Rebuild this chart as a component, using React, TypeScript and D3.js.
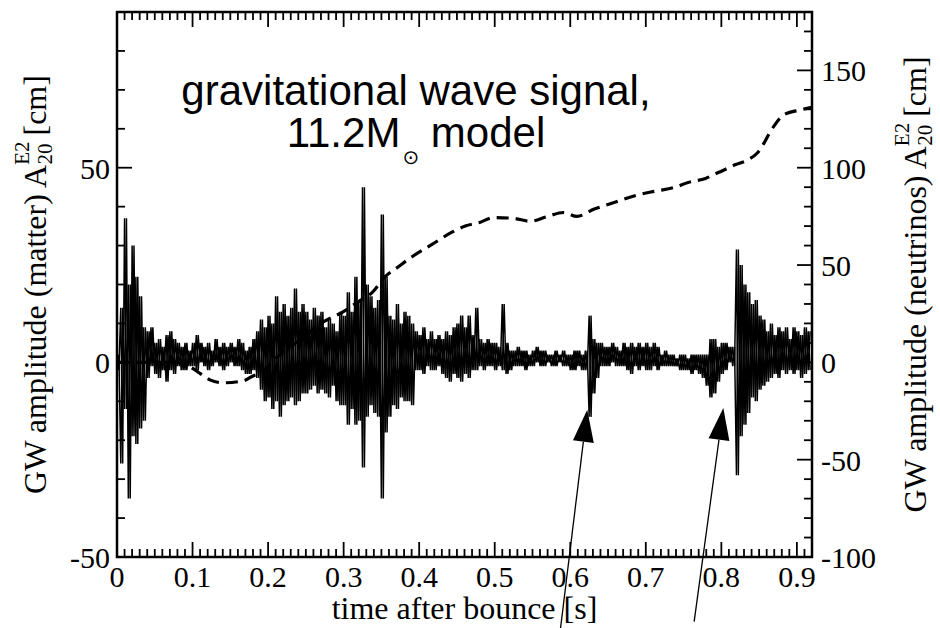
import { useRef, useEffect } from 'react';
import * as d3 from 'd3';

const binWidth = 0.005;
const matterHigh = [
  2, 14, 37, 20, 30, 22, 17, 9, 8, 9,
  5, 6, 4, 7, 8, 6, 5, 4, 5, 3,
  5, 7, 5, 4, 5, 3, 6, 4, 5, 4,
  5, 4, 6, 5, 3, 4, 6, 8, 11, 9,
  12, 10, 17, 13, 15, 12, 14, 19, 13, 15,
  13, 11, 14, 12, 13, 9, 11, 10, 8, 13,
  12, 18, 13, 22, 16, 45, 20, 17, 14, 16,
  38, 22, 12, 11, 15, 10, 13, 12, 10, 8,
  7, 9, 6, 8, 6, 7, 6, 8, 7, 9,
  10, 12, 9, 12, 7, 14, 6, 5, 6, 5,
  5, 4, 15, 5, 3, 3, 4, 3, 3, 2,
  3, 4, 3, 3, 2, 2, 3, 2, 3, 2,
  2, 3, 3, 2, 3, 12, 6, 5, 5, 4,
  4, 5, 4, 3, 5, 4, 5, 4, 5, 4,
  5, 4, 5, 4, 2, 3, 2, 2, 1, 2,
  2, 1, 2, 2, 2, 2, 2, 6, 6, 4,
  5, 5, 4, 4, 29, 25, 20, 18, 15, 16,
  12, 11, 8, 10, 7, 9, 8, 9, 6, 9,
  8, 7, 9, 8,
];
const matterLow = [
  -2, -26, -12, -35, -19, -21, -17, -15, -4, -1,
  -3, -4, -2, -5, -2, -3, -1, -2, -2, -1,
  -1, -2, 0, -1, -2, -1, 0, -1, -2, -1,
  0, -1, -1, -2, -3, -3, -2, -4, -7, -10,
  -9, -12, -10, -14, -11, -10, -9, -11, -10, -8,
  -8, -7, -6, -8, -7, -8, -9, -6, -10, -11,
  -11, -16, -12, -16, -15, -27, -14, -11, -13, -14,
  -35, -18, -14, -11, -12, -9, -10, -10, -11, -2,
  -2, -3, -1, -2, -2, -1, -3, -4, -5, -3,
  -4, -5, -3, -4, -2, -2, -1, -2, -1, -1,
  -2, -1, -2, -3, -2, -1, -1, -1, -2, -1,
  -1, 0, -1, -1, 0, -1, -1, 0, -1, -1,
  -2, -2, -1, -2, -2, -14, -8, -4, -1, -1,
  -1, 0, -1, -1, -1, -2, -3, -1, -2, -1,
  -2, -2, -1, -2, -1, -1, -1, -1, -1, -2,
  -2, -2, -3, -2, -3, -4, -6, -9, -8, -5,
  -3, -2, 0, -1, -29, -19, -16, -13, -9, -10,
  -7, -6, -5, -4, -3, -4, -2, -3, -2, -3,
  -2, -4, -3, -2,
];

// neutrino signal (right axis, cm)
const neutrinoTime = [
  0, 0.04, 0.079, 0.095, 0.106, 0.123, 0.14, 0.167, 0.18, 0.193,
  0.2, 0.21, 0.23, 0.25, 0.272, 0.298, 0.319, 0.338, 0.355, 0.372,
  0.391, 0.417, 0.444, 0.461, 0.481, 0.498, 0.525, 0.547, 0.57, 0.591,
  0.609, 0.631, 0.657, 0.689, 0.713, 0.739, 0.756, 0.779, 0.796, 0.819,
  0.835, 0.848, 0.869, 0.882, 0.905, 0.92,
];
const neutrinoAmp = [
  0, 0, 0, -2, -4.6, -9, -10.5, -9.5, -7, -4.8,
  -2, 2, 8, 14, 20.5, 25.7, 31, 36, 44, 49,
  54.4, 60.6, 67, 70, 72, 74.4, 74, 72.5, 75, 77,
  75, 78.6, 82, 86, 88, 90, 92.4, 94.5, 97.5, 101.6,
  104, 107.7, 121, 127, 129.7, 131,
];

const xTicks = [0, 0.1, 0.2, 0.3, 0.4, 0.5, 0.6, 0.7, 0.8, 0.9];
const leftTicks = [-50, 0, 50];
const rightTicks = [-100, -50, 0, 50, 100, 150];

// annotation arrows, in time / matter amplitude
const arrowTipTime = [0.6225, 0.8026];
const arrowTipAmp = [-12.2, -11.7];
const arrowTailTime = [0.587, 0.764];
const arrowTailAmp = [-68.5, -66.6];

const serif = '"Liberation Serif", "Times New Roman", serif';
const sans = '"Liberation Sans", Arial, sans-serif';

export default function App() {
  const ref = useRef<SVGSVGElement>(null);

  useEffect(() => {
    const left = 117;
    const right = 812;
    const top = 12;
    const bottom = 557;

    const svg = d3.select(ref.current);
    svg.selectAll('*').remove(); // clear svg

    const x = d3.scaleLinear().domain([0, 0.92]).range([left, right]);
    const yL = d3.scaleLinear().domain([-50, 90]).range([bottom, top]);
    const yR = d3.scaleLinear().domain([-100, 180]).range([bottom, top]);

    svg
      .append('clipPath')
      .attr('id', 'plot-clip')
      .append('rect')
      .attr('x', left)
      .attr('y', top)
      .attr('width', right - left)
      .attr('height', bottom - top);

    const plot = svg.append('g').attr('clip-path', 'url(#plot-clip)');

    // neutrino curve (dashed)
    const neutrino = neutrinoTime.map((t, i) => [t, neutrinoAmp[i]] as [number, number]);
    plot
      .append('path')
      .attr(
        'd',
        d3
          .line<[number, number]>()
          .x((d) => x(d[0]))
          .y((d) => yR(d[1]))
          .curve(d3.curveMonotoneX)(neutrino)
      )
      .attr('fill', 'none')
      .attr('stroke', '#000')
      .attr('stroke-width', 3.2)
      .attr('stroke-dasharray', '12,7');

    // matter signal: two zig-zags between the bin extremes, half a bin out of phase,
    // so the band reads as dense noise
    const matterLine = d3
      .line<[number, number]>()
      .x((d) => x(d[0]))
      .y((d) => yL(d[1]));
    const zigA: [number, number][] = [];
    const zigB: [number, number][] = [];
    matterHigh.forEach((h, i) => {
      zigA.push([i * binWidth, h]);
      zigA.push([(i + 0.5) * binWidth, matterLow[i]]);
      zigB.push([i * binWidth, matterLow[i]]);
      zigB.push([(i + 0.5) * binWidth, h]);
    });
    [zigA, zigB].forEach((pts) => {
      plot
        .append('path')
        .attr('d', matterLine(pts))
        .attr('fill', 'none')
        .attr('stroke', '#000')
        .attr('stroke-width', 1.5)
        .attr('stroke-linejoin', 'bevel');
    });

    // frame
    svg
      .append('rect')
      .attr('x', left)
      .attr('y', top)
      .attr('width', right - left)
      .attr('height', bottom - top)
      .attr('fill', 'none')
      .attr('stroke', '#000')
      .attr('stroke-width', 2.5);

    const ticks = svg.append('g').attr('stroke', '#000').attr('stroke-width', 1.8);
    const major = 15;
    const minor = 8;

    // x ticks, bottom and top, pointing inward
    d3.range(0, 93).forEach((k) => {
      const t = k / 100;
      const len = k % 10 === 0 ? major : minor;
      ticks.append('line').attr('x1', x(t)).attr('x2', x(t)).attr('y1', bottom).attr('y2', bottom - len);
      ticks.append('line').attr('x1', x(t)).attr('x2', x(t)).attr('y1', top).attr('y2', top + len);
    });
    // left ticks
    d3.range(-50, 91, 10).forEach((v) => {
      const len = v % 50 === 0 ? major : minor;
      ticks.append('line').attr('x1', left).attr('x2', left + len).attr('y1', yL(v)).attr('y2', yL(v));
    });
    // right ticks
    d3.range(-100, 181, 10).forEach((v) => {
      const len = v % 50 === 0 ? major : minor;
      ticks.append('line').attr('x1', right).attr('x2', right - len).attr('y1', yR(v)).attr('y2', yR(v));
    });

    const labels = svg.append('g').attr('font-family', serif).attr('font-size', 30).attr('fill', '#000');
    labels
      .selectAll('text.xt')
      .data(xTicks)
      .join('text')
      .attr('x', (d) => x(d))
      .attr('y', 587)
      .attr('text-anchor', 'middle')
      .text((d) => String(d));
    labels
      .selectAll('text.yl')
      .data(leftTicks)
      .join('text')
      .attr('x', 110)
      .attr('y', (d) => yL(d) + 11)
      .attr('text-anchor', 'end')
      .text((d) => String(d));
    labels
      .selectAll('text.yr')
      .data(rightTicks)
      .join('text')
      .attr('x', 821)
      .attr('y', (d) => yR(d) + 11)
      .attr('text-anchor', 'start')
      .text((d) => String(d));

    // axis titles
    svg
      .append('text')
      .attr('x', (left + right) / 2)
      .attr('y', 619)
      .attr('text-anchor', 'middle')
      .attr('font-family', serif)
      .attr('font-size', 32)
      .text('time after bounce [s]');

    const yTitle = (xPos: number, what: string) => {
      const t = svg
        .append('text')
        .attr('transform', `translate(${xPos},${(top + bottom) / 2}) rotate(-90)`)
        .attr('text-anchor', 'middle')
        .attr('font-family', serif)
        .attr('font-size', 32);
      t.append('tspan').text(`GW amplitude (${what}) A`);
      t.append('tspan').attr('font-size', 21).attr('dy', -17).text('E2');
      t.append('tspan').attr('font-size', 21).attr('dx', -23).attr('dy', 23).text('20');
      t.append('tspan').attr('dy', -6).text('\u00a0[cm]');
    };
    yTitle(46, 'matter');
    yTitle(926, 'neutrinos');

    // title
    svg
      .append('text')
      .attr('x', 416)
      .attr('y', 105)
      .attr('text-anchor', 'middle')
      .attr('font-family', sans)
      .attr('font-size', 42)
      .text('gravitational wave signal,');
    const line2 = svg
      .append('text')
      .attr('x', 416)
      .attr('y', 147)
      .attr('text-anchor', 'middle')
      .attr('font-family', sans)
      .attr('font-size', 42);
    line2.append('tspan').text('11.2M');
    line2
      .append('tspan')
      .attr('font-size', 20)
      .attr('dx', 2)
      .attr('dy', 17)
      .attr('font-family', '"DejaVu Sans", sans-serif')
      .text('\u2299');
    line2.append('tspan').attr('dy', -17).text('\u00a0model');

    // arrows
    const arrows = svg.append('g');
    arrowTipTime.forEach((tt, i) => {
      const tipX = x(tt);
      const tipY = yL(arrowTipAmp[i]);
      const tailX = x(arrowTailTime[i]);
      const tailY = yL(arrowTailAmp[i]);
      const dx = tipX - tailX;
      const dy = tipY - tailY;
      const len = Math.hypot(dx, dy);
      const ux = dx / len;
      const uy = dy / len;
      const headLen = 32;
      const headHalf = 10.5;
      const bx = tipX - ux * headLen;
      const by = tipY - uy * headLen;
      arrows
        .append('line')
        .attr('x1', tailX)
        .attr('y1', tailY)
        .attr('x2', bx)
        .attr('y2', by)
        .attr('stroke', '#000')
        .attr('stroke-width', 1.3);
      arrows
        .append('path')
        .attr(
          'd',
          `M${tipX},${tipY}L${bx - uy * headHalf},${by + ux * headHalf}L${bx + uy * headHalf},${by - ux * headHalf}Z`
        )
        .attr('fill', '#000');
    });
  }, []);

  return (
    <svg
      ref={ref}
      width={940}
      height={628}
      style={{ position: 'absolute', left: 0, top: 0, background: '#fff' }}
    />
  );
}
